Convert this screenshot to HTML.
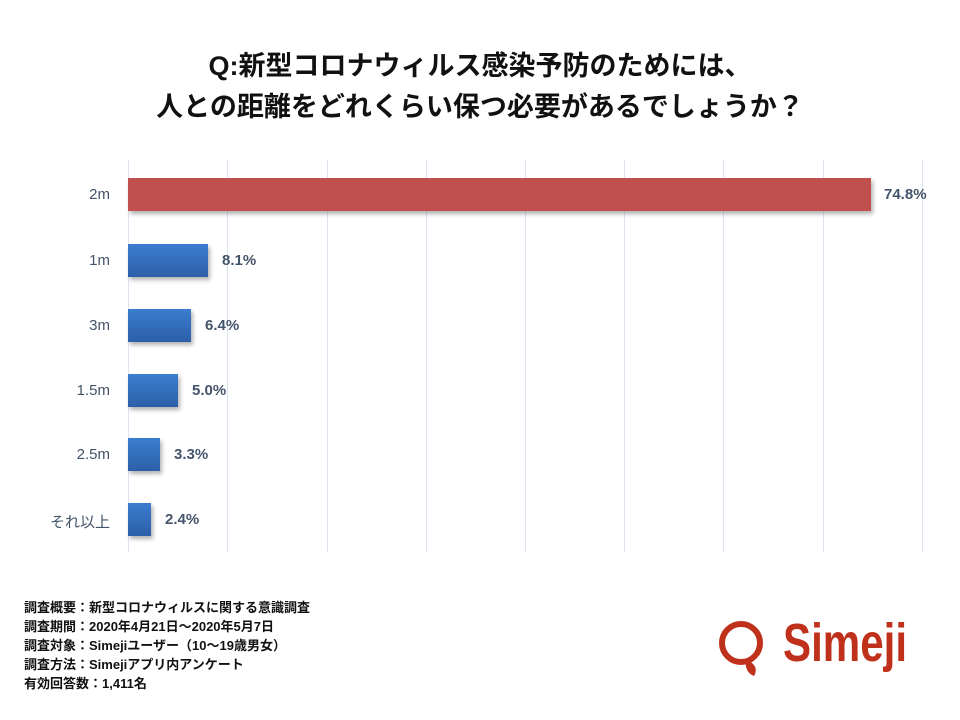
<!DOCTYPE html>
<html><head><meta charset="utf-8"><style>
body{margin:0;width:960px;height:720px;background:#fff;overflow:hidden;position:relative;font-family:"Liberation Sans","Noto Sans CJK JP",sans-serif}
.t{position:absolute;left:0;width:960px;text-align:center;font-weight:bold;font-size:27px;color:#111}
.g{position:absolute;top:160px;height:392px;width:1px;background:#dbe4ef}
.l{position:absolute;width:110px;left:0;text-align:right;font-size:15px;color:#44546a}
.b{position:absolute;left:128px;height:33px;box-shadow:2px 3px 4px rgba(0,0,0,.3)}
.blue{background:linear-gradient(#3b7dd0,#2c5fa8)}
.v{position:absolute;font-size:15px;font-weight:bold;color:#44546a}
.n{position:absolute;left:24px;top:598px;font-size:13px;font-weight:bold;line-height:19px;color:#111}
</style></head><body>
<div class="t" style="top:44px">Q:新型コロナウィルス感染予防のためには、</div>
<div class="t" style="top:85px">人との距離をどれくらい保つ必要があるでしょうか？</div>
<div class="g" style="left:128px"></div><div class="g" style="left:227px"></div><div class="g" style="left:327px"></div><div class="g" style="left:426px"></div><div class="g" style="left:525px"></div><div class="g" style="left:624px"></div><div class="g" style="left:723px"></div><div class="g" style="left:823px"></div><div class="g" style="left:922px"></div>

<div class="l" style="top:186px">2m</div>
<div class="b" style="top:178px;width:743px;background:#c0504d"></div>
<div class="v" style="left:884px;top:186px">74.8%</div>

<div class="l" style="top:252px">1m</div>
<div class="b blue" style="top:244px;width:80px"></div>
<div class="v" style="left:222px;top:252px">8.1%</div>

<div class="l" style="top:317px">3m</div>
<div class="b blue" style="top:309px;width:63px"></div>
<div class="v" style="left:205px;top:317px">6.4%</div>

<div class="l" style="top:382px">1.5m</div>
<div class="b blue" style="top:374px;width:50px"></div>
<div class="v" style="left:192px;top:382px">5.0%</div>

<div class="l" style="top:446px">2.5m</div>
<div class="b blue" style="top:438px;width:32px"></div>
<div class="v" style="left:174px;top:446px">3.3%</div>

<div class="l" style="top:511px">それ以上</div>
<div class="b blue" style="top:503px;width:23px"></div>
<div class="v" style="left:165px;top:511px">2.4%</div>

<div class="n">調査概要：新型コロナウィルスに関する意識調査<br>調査期間：2020年4月21日～2020年5月7日<br>調査対象：Simejiユーザー（10～19歳男女）<br>調査方法：Simejiアプリ内アンケート<br>有効回答数：1,411名</div>

<svg style="position:absolute;left:716px;top:618px" width="56" height="60"><circle cx="25" cy="25" r="19" fill="none" stroke="#c0311c" stroke-width="6"/><path d="M30 41 Q44 48 38 58 Q28 54 30 41Z" fill="#c0311c"/></svg>
<div style="position:absolute;left:783px;top:612px;font-size:54px;font-weight:bold;color:#c0311c;transform:scaleX(.78);transform-origin:left">Simeji</div>
</body></html>
